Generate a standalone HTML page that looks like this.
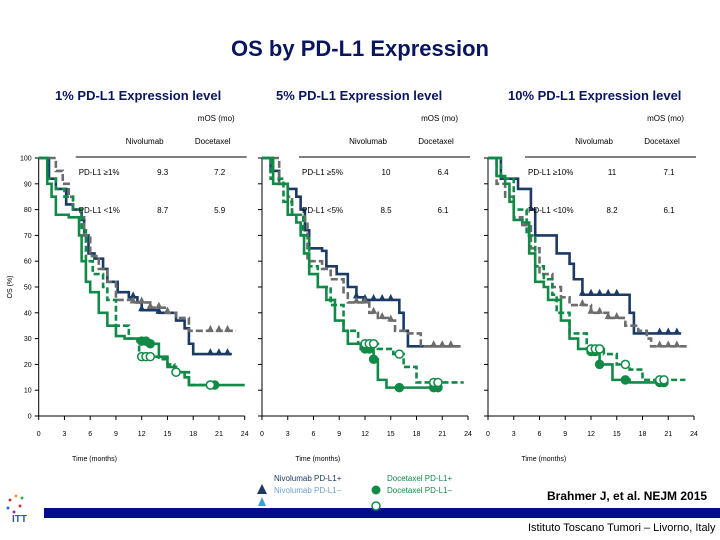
<!DOCTYPE html>
<html><head><meta charset="utf-8"><style>
body{margin:0;width:720px;height:540px;overflow:hidden;background:#fff;font-family:"Liberation Sans",sans-serif;position:relative}
.t{position:absolute;white-space:nowrap}
</style></head><body>
<div class="t" style="left:0;width:720px;text-align:center;top:36px;font-size:22px;font-weight:bold;color:#0a1560">OS by PD-L1 Expression</div>
<div class="t" style="left:55px;top:88px;font-size:13px;font-weight:bold;color:#0a1560">1% PD-L1 Expression level</div>
<div class="t" style="left:276px;top:88px;font-size:13px;font-weight:bold;color:#0a1560">5% PD-L1 Expression level</div>
<div class="t" style="left:508px;top:88px;font-size:13px;font-weight:bold;color:#0a1560">10% PD-L1 Expression level</div>
<div class="t" style="left:44px;top:508px;width:676px;height:10px;background:#020d8c"></div>
<div class="t" style="left:547px;top:489px;font-size:12px;font-weight:bold">Brahmer J, et al. NEJM 2015</div>
<div class="t" style="left:528px;top:522px;font-size:11px">Istituto Toscano Tumori – Livorno, Italy</div>
<svg id="c" width="720" height="540" style="position:absolute;left:0;top:0"></svg>
<script>
// panel 1 (1%)
const p1NivoPos=[[0,100],[1.2,92],[2,88],[3.2,82],[4,80],[5,76],[5.3,70],[5.8,63],[6.5,61],[7.5,57],[8,52],[9.2,48],[10.5,46],[11.5,44],[12,41],[14,40],[16,37],[17,34],[17.5,28],[18,24],[22.5,24]];
const p1NivoNeg=[[0,100],[2,95],[2.8,90],[3.5,85],[4,80],[5,77],[5.3,70],[6,62],[7,57],[8,52],[9,45],[11,44],[13,42],[15,40],[16,38],[17.5,33],[23,33]];
const p1DocPos=[[0,100],[1,90],[1.5,85],[2,78],[3.5,77],[4.7,70],[5,60],[5.5,52],[6,48],[7,40],[8,35],[9,31],[10,30],[11.5,29],[13,28],[14,23],[15,19],[16,17],[17,15],[17.5,12],[24,12]];
const p1DocNeg=[[0,100],[1,92],[2,88],[3,85],[4,80],[5,72],[5.5,60],[6.3,55],[7.5,50],[8,45],[9,35],[10.5,30],[11.7,23],[14,22],[15,20],[15.8,17],[17.5,12],[20,12]];
// panel 2 (5%)
const p2NivoPos=[[0,100],[1,95],[2,90],[3,88],[4,85],[4.5,80],[5,72],[5.5,65],[7,64],[7.5,58],[8.7,55],[10,50],[11,46],[12,45],[16,40],[16.5,33],[17,27],[17.5,27],[23,27]];
const p2NivoNeg=[[0,100],[2,90],[3,85],[3.5,78],[5,75],[5.3,60],[7,57],[8,53],[9.5,48],[10,44],[12.5,40],[13.5,38],[15,37],[15.5,33],[17,32],[18.5,27],[23.5,27]];
const p2DocPos=[[0,100],[1.3,90],[3,78],[4,75],[4.5,70],[4.9,63],[5.5,55],[6.5,50],[7.5,45],[8.5,37],[9.5,33],[10,28],[11.5,26],[13,22],[13.5,14],[14.5,11],[20.5,11]];
const p2DocNeg=[[0,100],[1,92],[2.5,83],[3.5,78],[4.8,70],[5.5,58],[6.5,50],[8,43],[9.5,33],[11.2,28],[13.5,26],[15.3,24],[16.5,19],[18,13],[23.5,13]];
// panel 3 (10%)
const p3NivoPos=[[0,100],[1.5,92],[3.5,88],[5,80],[5.5,70],[8,63],[9.5,59],[10,53],[11,47],[16.5,40],[17,32],[22.5,32]];
const p3NivoNeg=[[0,100],[1,90],[2,85],[3,77],[4,74],[5,65],[6,55],[7.5,50],[8.5,46],[9.5,43],[12,40],[14,38],[16,35],[17.5,33],[18.5,30],[19,27],[23.5,27]];
const p3DocPos=[[0,100],[1,93],[2,90],[2.5,83],[3,76],[4,75],[4.8,63],[5.5,52],[6.5,50],[7,45],[8.5,37],[9.5,30],[10.5,26],[12,25],[13,20],[14.5,14],[16.5,13],[20.5,13]];
const p3DocNeg=[[0,100],[1.5,92],[3,80],[4.5,70],[5.5,58],[6.5,53],[7.5,47],[8,40],[9.5,32],[11.5,26],[13.5,24],[15,20],[16.5,18],[18,14],[23,14]];
const xTicks=[0,3,6,9,12,15,18,21,24];
const yTicks=[0,10,20,30,40,50,60,70,80,90,100];
const censorNivo=[11,12,13,14,15,20,21,22];
const censorDoc=[12,12.5,13,16,20,20.5];
const labels=[["PD-L1 ≥1%","PD-L1 <1%","9.3","8.7","7.2","5.9"],["PD-L1 ≥5%","PD-L1 <5%","10","8.5","6.4","6.1"],["PD-L1 ≥10%","PD-L1 <10%","11","8.2","7.1","6.1"]];

const svg=document.getElementById('c');const NS='http://www.w3.org/2000/svg';
function mk(tag,at,name){const e=document.createElementNS(NS,tag);for(const k in at)e.setAttribute(k,at[k]);


svg.appendChild(e);return e;}
function val(s,t){let v=s[0][1];for(const p of s){if(p[0]<=t)v=p[1];}return v;}
const panels=[{x0:38.7,series:[p1NivoPos,p1NivoNeg,p1DocPos,p1DocNeg]},{x0:262,series:[p2NivoPos,p2NivoNeg,p2DocPos,p2DocNeg]},{x0:488,series:[p3NivoPos,p3NivoNeg,p3DocPos,p3DocNeg]}];
const W=206,Y0=416,H=258;
const styles=[{c:'#1b3a64',d:'',m:'tri',f:'#1b3a64'},{c:'#6d6d6d',d:'7 3',m:'tri',f:'#6d6d6d'},{c:'#128a47',d:'',m:'dot',f:'#128a47'},{c:'#128a47',d:'6 3',m:'dot',f:'#fff'}];
panels.forEach((P,pi)=>{
 const X=t=>P.x0+t/24*W, Y=v=>Y0-v/100*H;
 mk('line',{x1:X(0),y1:Y0,x2:X(24),y2:Y0,stroke:'#000','stroke-width':1},'x-axis');
 mk('line',{x1:X(0),y1:Y0,x2:X(0),y2:Y(100),stroke:'#000','stroke-width':1},'y-axis');
 xTicks.forEach(t=>{mk('line',{x1:X(t),y1:Y0,x2:X(t),y2:Y0+4,stroke:'#000'},'x-tick');
  const tx=mk('text',{x:X(t),y:Y0+20,'font-size':7,'text-anchor':'middle'},'x-tick-label');tx.textContent=t;});
 yTicks.forEach(v=>{mk('line',{x1:X(0)-4,y1:Y(v),x2:X(0),y2:Y(v),stroke:'#000'},'y-tick');
  if(pi===0){const tx=mk('text',{x:X(0)-7,y:Y(v)+2.5,'font-size':7,'text-anchor':'end'},'y-tick-label');tx.textContent=v;}});
 const xl=mk('text',{x:X(6.5),y:461,'font-size':7,'text-anchor':'middle'},'x-axis-title');xl.textContent='Time (months)';
 P.series.forEach((s,si)=>{
  const st=styles[si];let d='M'+X(s[0][0])+','+Y(s[0][1]);
  for(let i=1;i<s.length;i++){d+='H'+X(s[i][0])+'V'+Y(s[i][1]);}
  mk('path',{d:d,fill:'none',stroke:st.c,'stroke-width':2.6,'stroke-dasharray':st.d},'km-curve');
  const cs=st.m==='tri'?censorNivo:censorDoc;const tEnd=s[s.length-1][0];
  cs.filter(t=>t<=tEnd).forEach(t=>{const cx=X(t),cy=Y(val(s,t));
   if(st.m==='tri')mk('path',{d:`M${cx},${cy-6}L${cx-3.5},${cy+1}L${cx+3.5},${cy+1}Z`,fill:st.f},'censor-mark');
   else mk('circle',{cx:cx,cy:cy,r:4,fill:st.f,stroke:st.c,'stroke-width':1.5},'censor-mark');});
 });
 const L=labels[pi],tx0=P.x0+40;
 const put=(x,y,s,a,n)=>{const e=mk('text',{x:x,y:y,'font-size':8,'text-anchor':a},n);e.textContent=s;};
 put(P.x0+W-10,121,'mOS (mo)','end','mos-label');
 put(P.x0+W-100,144,'Nivolumab','middle','col-nivolumab');put(P.x0+W-32,144,'Docetaxel','middle','col-docetaxel');
 mk('line',{x1:tx0-3,y1:157,x2:P.x0+W+2,y2:157,stroke:'#000'},'table-rule');
 put(tx0,175,L[0],'start','row-label');put(tx0,213,L[1],'start','row-label');
 put(P.x0+W-82,175,L[2],'middle','nivo-mos');put(P.x0+W-82,213,L[3],'middle','nivo-mos');
 put(P.x0+W-25,175,L[4],'middle','doc-mos');put(P.x0+W-25,213,L[5],'middle','doc-mos');
});
const yl=mk('text',{x:12,y:287,'font-size':7,'text-anchor':'middle',transform:'rotate(-90 12 287)'},'y-axis-title');yl.textContent='OS (%)';
// legend
mk('path',{d:'M262,484L257,494L267,494Z',fill:'#1b3a64'},'legend-nivo-pos-marker');
mk('path',{d:'M262,497L258,506L266,506Z',fill:'#3aa0d8'},'legend-nivo-neg-marker');
mk('circle',{cx:376,cy:490,r:4.5,fill:'#128a47'},'legend-doc-pos-marker');
mk('circle',{cx:376,cy:506,r:4,fill:'#fff',stroke:'#128a47','stroke-width':1.5},'legend-doc-neg-marker');
[[274,481,'Nivolumab PD-L1+','#1b3a64'],[274,493,'Nivolumab PD-L1–','#6fa0c8'],[387,481,'Docetaxel  PD-L1+','#128a47'],[387,493,'Docetaxel  PD-L1–','#128a47']].forEach(a=>{
 const e=mk('text',{x:a[0],y:a[1],'font-size':8,fill:a[3]},'legend-entry');e.textContent=a[2];});
// logo
[[10,500,'#c33'],[16,496,'#e8a020'],[22,498,'#3a6'],[8,508,'#36c'],[14,512,'#939'],[20,506,'#c33']].forEach(a=>{mk('circle',{cx:a[0],cy:a[1],r:1.5,fill:a[2]},'logo-dot');});
const lg=mk('text',{x:12,y:522,'font-size':10,'font-weight':'bold',fill:'#3355aa'},'logo');lg.textContent='ITT';
</script>
</body></html>
